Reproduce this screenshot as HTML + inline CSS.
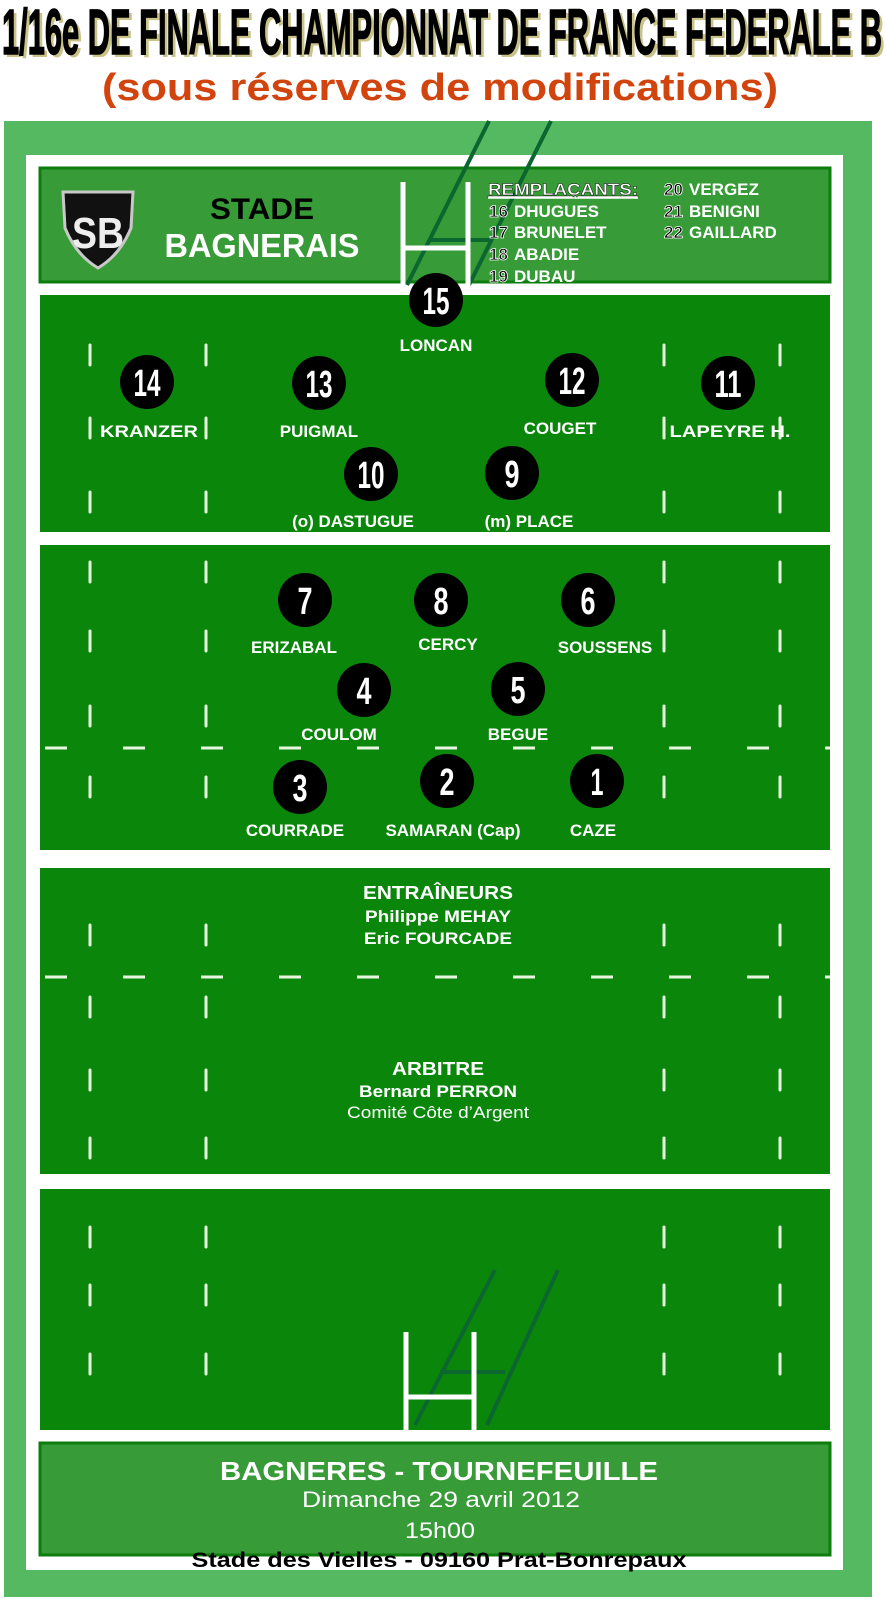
<!DOCTYPE html>
<html><head><meta charset="utf-8"><style>
html,body{margin:0;padding:0;background:#fff;}
svg{display:block;}
text{font-family:"Liberation Sans",Arial,sans-serif;}
</style></head><body>
<svg width="886" height="1599" viewBox="0 0 886 1599" xmlns="http://www.w3.org/2000/svg">
<rect width="886" height="1599" fill="#fff"/>
<!-- title -->
<text x="5" y="57" font-size="64" font-weight="bold" fill="#c9c38a" textLength="880" lengthAdjust="spacingAndGlyphs">1/16e DE FINALE CHAMPIONNAT DE FRANCE FEDERALE B</text>
<text x="2" y="54" font-size="64" font-weight="bold" fill="#000" stroke="#000" stroke-width="1.5" textLength="880" lengthAdjust="spacingAndGlyphs">1/16e DE FINALE CHAMPIONNAT DE FRANCE FEDERALE B</text>
<text x="102" y="100" font-size="38" font-weight="bold" fill="#d2440e" textLength="676" lengthAdjust="spacingAndGlyphs">(sous réserves de modifications)</text>

<!-- pitch -->
<rect x="4" y="121" width="868" height="1476" fill="#55b962"/>
<rect x="26" y="155" width="817" height="1415" fill="#fff"/>
<rect x="40" y="168" width="790" height="114" fill="#379b37" stroke="#0d7d0d" stroke-width="3"/>
<rect x="40" y="295" width="790" height="237" fill="#0a870a"/>
<rect x="40" y="545" width="790" height="305" fill="#0a870a"/>
<rect x="40" y="868" width="790" height="306" fill="#0a870a"/>
<rect x="40" y="1189" width="790" height="241" fill="#0a870a"/>
<rect x="40" y="1443" width="790" height="112" fill="#379b37" stroke="#0d7d0d" stroke-width="3"/>

<!-- vertical dashes -->
<g stroke="#e8f5e0" stroke-width="3" stroke-linecap="round">
<g id="col">
<line x1="90" y1="345" x2="90" y2="365"/><line x1="90" y1="418" x2="90" y2="438"/><line x1="90" y1="492" x2="90" y2="512"/>
<line x1="90" y1="562" x2="90" y2="582"/><line x1="90" y1="631" x2="90" y2="651"/><line x1="90" y1="706" x2="90" y2="726"/><line x1="90" y1="777" x2="90" y2="797"/>
<line x1="90" y1="925" x2="90" y2="945"/><line x1="90" y1="997" x2="90" y2="1017"/><line x1="90" y1="1070" x2="90" y2="1090"/><line x1="90" y1="1138" x2="90" y2="1158"/>
<line x1="90" y1="1227" x2="90" y2="1247"/><line x1="90" y1="1285" x2="90" y2="1305"/><line x1="90" y1="1354" x2="90" y2="1374"/>
</g>
<use href="#col" x="116"/>
<use href="#col" x="574"/>
<use href="#col" x="690"/>
</g>
<!-- horizontal dashed lines -->
<line x1="40" y1="748" x2="830" y2="748" stroke="#e8f5e0" stroke-width="3" stroke-dasharray="22 56" stroke-dashoffset="-5"/>
<line x1="40" y1="977" x2="830" y2="977" stroke="#e8f5e0" stroke-width="3" stroke-dasharray="22 56" stroke-dashoffset="-5"/>

<!-- top posts -->
<g stroke="#0b6630" stroke-width="4" fill="none">
<line x1="489" y1="121" x2="407" y2="285"/><line x1="551" y1="121" x2="469" y2="285"/>
<line x1="430" y1="240" x2="490" y2="240"/>
</g>
<g stroke="#fff" stroke-width="5">
<line x1="403" y1="182" x2="403" y2="288"/><line x1="468" y1="182" x2="468" y2="288"/><line x1="403" y1="248" x2="468" y2="248"/>
</g>
<!-- bottom posts -->
<g stroke="#0b6630" stroke-width="4" fill="none">
<line x1="495" y1="1270" x2="415" y2="1425"/><line x1="558" y1="1270" x2="487" y2="1425"/>
<line x1="440" y1="1372" x2="505" y2="1372"/>
</g>
<g stroke="#fff" stroke-width="5">
<line x1="406" y1="1332" x2="406" y2="1437"/><line x1="474" y1="1332" x2="474" y2="1437"/><line x1="406" y1="1397" x2="474" y2="1397"/>
</g>

<!-- logo -->
<path d="M63 192 L133 192 L131 228 Q120 255 98 268 Q76 255 65 228 Z" fill="#111" stroke="#c8c8c8" stroke-width="3"/>
<text x="98" y="248" font-size="44" font-weight="bold" fill="#eee" text-anchor="middle" textLength="52" lengthAdjust="spacingAndGlyphs">SB</text>

<!-- header -->
<text x="262" y="219" font-size="30" font-weight="bold" fill="#000" text-anchor="middle" textLength="104" lengthAdjust="spacingAndGlyphs">STADE</text>
<text x="262" y="257" font-size="33" font-weight="bold" fill="#fff" text-anchor="middle" textLength="195" lengthAdjust="spacingAndGlyphs">BAGNERAIS</text>

<g font-size="17" font-weight="bold">
<text x="488" y="195" fill="#fff" textLength="150" lengthAdjust="spacingAndGlyphs" text-decoration="underline" stroke="#000" stroke-width="0.4">REMPLAÇANTS:</text>
<line x1="488" y1="198" x2="638" y2="198" stroke="#fff" stroke-width="1.5"/>
<g fill="#000" stroke="#fff" stroke-width="0.8">
<text x="489" y="217">16</text><text x="489" y="238">17</text><text x="489" y="260">18</text><text x="489" y="282">19</text>
<text x="664" y="195">20</text><text x="664" y="217">21</text><text x="664" y="238">22</text>
</g>
<g fill="#fff">
<text x="514" y="217">DHUGUES</text><text x="514" y="238">BRUNELET</text><text x="514" y="260">ABADIE</text><text x="514" y="282">DUBAU</text>
<text x="689" y="195">VERGEZ</text><text x="689" y="217">BENIGNI</text><text x="689" y="238">GAILLARD</text>
</g>
</g>

<!-- players -->
<g>
<circle cx="436" cy="300" r="27" fill="#000"/>
<circle cx="147" cy="382" r="27" fill="#000"/>
<circle cx="319" cy="383" r="27" fill="#000"/>
<circle cx="572" cy="380" r="27" fill="#000"/>
<circle cx="728" cy="383" r="27" fill="#000"/>
<circle cx="371" cy="474" r="27" fill="#000"/>
<circle cx="512" cy="473" r="27" fill="#000"/>
<circle cx="305" cy="600" r="27" fill="#000"/>
<circle cx="441" cy="600" r="27" fill="#000"/>
<circle cx="588" cy="600" r="27" fill="#000"/>
<circle cx="364" cy="690" r="27" fill="#000"/>
<circle cx="518" cy="689" r="27" fill="#000"/>
<circle cx="300" cy="787" r="27" fill="#000"/>
<circle cx="447" cy="781" r="27" fill="#000"/>
<circle cx="597" cy="781" r="27" fill="#000"/>
</g>
<g font-size="38" font-weight="bold" fill="#fff" text-anchor="middle">
<text x="436" y="314" textLength="27" lengthAdjust="spacingAndGlyphs">15</text>
<text x="147" y="396" textLength="27" lengthAdjust="spacingAndGlyphs">14</text>
<text x="319" y="397" textLength="27" lengthAdjust="spacingAndGlyphs">13</text>
<text x="572" y="394" textLength="27" lengthAdjust="spacingAndGlyphs">12</text>
<text x="728" y="397" textLength="27" lengthAdjust="spacingAndGlyphs">11</text>
<text x="371" y="488" textLength="27" lengthAdjust="spacingAndGlyphs">10</text>
<text x="512" y="487" textLength="15" lengthAdjust="spacingAndGlyphs">9</text>
<text x="305" y="614" textLength="15" lengthAdjust="spacingAndGlyphs">7</text>
<text x="441" y="614" textLength="15" lengthAdjust="spacingAndGlyphs">8</text>
<text x="588" y="614" textLength="15" lengthAdjust="spacingAndGlyphs">6</text>
<text x="364" y="704" textLength="15" lengthAdjust="spacingAndGlyphs">4</text>
<text x="518" y="703" textLength="15" lengthAdjust="spacingAndGlyphs">5</text>
<text x="300" y="801" textLength="15" lengthAdjust="spacingAndGlyphs">3</text>
<text x="447" y="795" textLength="15" lengthAdjust="spacingAndGlyphs">2</text>
<text x="597" y="795" textLength="13" lengthAdjust="spacingAndGlyphs">1</text>
</g>
<g font-size="17" font-weight="bold" fill="#fff" text-anchor="middle">
<text x="436" y="351">LONCAN</text>
<text x="149" y="437" textLength="98" lengthAdjust="spacingAndGlyphs">KRANZER</text>
<text x="319" y="437">PUIGMAL</text>
<text x="560" y="434">COUGET</text>
<text x="730" y="437" textLength="121" lengthAdjust="spacingAndGlyphs">LAPEYRE H.</text>
<text x="353" y="527">(o) DASTUGUE</text>
<text x="529" y="527">(m) PLACE</text>
<text x="294" y="653">ERIZABAL</text>
<text x="448" y="650">CERCY</text>
<text x="605" y="653">SOUSSENS</text>
<text x="339" y="740">COULOM</text>
<text x="518" y="740">BEGUE</text>
<text x="295" y="836">COURRADE</text>
<text x="453" y="836">SAMARAN (Cap)</text>
<text x="593" y="836">CAZE</text>
</g>

<!-- staff -->
<g font-weight="bold" fill="#fff" text-anchor="middle">
<text x="438" y="899" font-size="18" textLength="150" lengthAdjust="spacingAndGlyphs">ENTRAÎNEURS</text>
<text x="438" y="922" font-size="17" textLength="146" lengthAdjust="spacingAndGlyphs">Philippe MEHAY</text>
<text x="438" y="944" font-size="17" textLength="148" lengthAdjust="spacingAndGlyphs">Eric FOURCADE</text>
<text x="438" y="1075" font-size="18" textLength="92" lengthAdjust="spacingAndGlyphs">ARBITRE</text>
<text x="438" y="1097" font-size="17" textLength="158" lengthAdjust="spacingAndGlyphs">Bernard PERRON</text>
</g>
<text x="438" y="1118" font-size="17" fill="#fff" text-anchor="middle" textLength="182" lengthAdjust="spacingAndGlyphs">Comité Côte d’Argent</text>

<!-- footer -->
<g text-anchor="middle">
<text x="439" y="1480" font-size="26" font-weight="bold" fill="#fff" textLength="438" lengthAdjust="spacingAndGlyphs">BAGNERES - TOURNEFEUILLE</text>
<text x="441" y="1507" font-size="22" fill="#fff" textLength="278" lengthAdjust="spacingAndGlyphs">Dimanche 29 avril 2012</text>
<text x="440" y="1538" font-size="22" fill="#fff" textLength="70" lengthAdjust="spacingAndGlyphs">15h00</text>
<text x="439" y="1567" font-size="21" font-weight="bold" fill="#000" textLength="495" lengthAdjust="spacingAndGlyphs">Stade des Vielles - 09160 Prat-Bonrepaux</text>
</g>
</svg>
</body></html>
